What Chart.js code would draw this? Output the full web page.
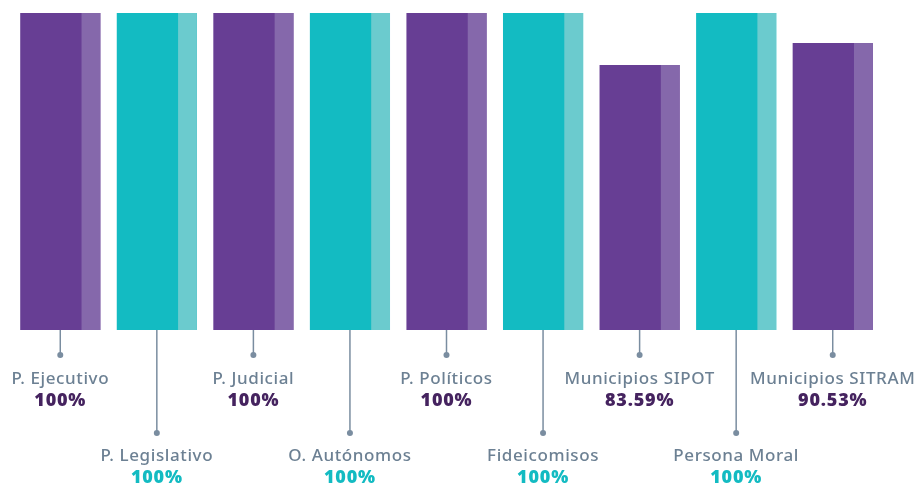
<!DOCTYPE html>
<html>
<head>
<meta charset="utf-8">
<script src="https://cdn.jsdelivr.net/npm/chart.js@4.4.1/dist/chart.umd.min.js"></script>
<style>
  html, body { margin: 0; padding: 0; background: #fff; }
  #wrap { width: 914px; height: 486px; }
</style>
</head>
<body>
<div id="wrap"><canvas id="canvas" width="914" height="486"></canvas></div>
<script>
var categories = ['P. Ejecutivo', 'P. Legislativo', 'P. Judicial', 'O. Autónomos', 'P. Políticos',
                  'Fideicomisos', 'Municipios SIPOT', 'Persona Moral', 'Municipios SITRAM'];
var values = [100, 100, 100, 100, 100, 100, 83.59, 100, 90.53];
var valueLabels = ['100%', '100%', '100%', '100%', '100%', '100%', '83.59%', '100%', '90.53%'];

var purple = '#673e94', purpleLight = '#8568ab';
var teal = '#13bbc2', tealLight = '#6bcbce';

var barColors = categories.map(function(c, i){ return i % 2 == 0 ? purple : teal; });
var stripColors = categories.map(function(c, i){ return i % 2 == 0 ? purpleLight : tealLight; });
var valueColors = categories.map(function(c, i){ return i % 2 == 0 ? '#45235f' : '#13bbc2'; });

// lighter strip on the right side of each bar
var stripPlugin = {
    id: 'strip',
    afterDatasetsDraw: function(chart){
        var ctx = chart.ctx;
        chart.getDatasetMeta(0).data.forEach(function(bar, i){
            var left = bar.x - bar.width / 2;
            var right = bar.x + bar.width / 2;
            var sx = left + bar.width * 0.765;
            ctx.fillStyle = stripColors[i];
            ctx.fillRect(sx, bar.y, right - sx, bar.base - bar.y);
        });
    }
};

// connector lines, dots and labels under the bars
var labelPlugin = {
    id: 'labels',
    afterDraw: function(chart){
        var ctx = chart.ctx;
        var xs = chart.scales.x;
        var base = chart.scales.y.getPixelForValue(0);
        ctx.save();
        categories.forEach(function(name, i){
            var x = xs.getPixelForValue(i);
            var low = i % 2 == 1;
            var dotY = low ? 433 : 355;
            ctx.strokeStyle = '#7a8da0';
            ctx.lineWidth = 1.5;
            ctx.beginPath();
            ctx.moveTo(x, base);
            ctx.lineTo(x, dotY);
            ctx.stroke();
            ctx.fillStyle = '#7a8da0';
            ctx.beginPath();
            ctx.arc(x, dotY, 3, 0, Math.PI * 2);
            ctx.fill();
            ctx.textAlign = 'center';
            ctx.textBaseline = 'middle';
            ctx.fillStyle = '#6c8093';
            ctx.letterSpacing = '0.6px';
            ctx.font = '500 17px "Noto Sans"';
            ctx.fillText(name, x, low ? 456 : 379);
            ctx.fillStyle = valueColors[i];
            ctx.letterSpacing = '0.8px';
            ctx.font = '900 18px "Noto Sans"';
            ctx.fillText(valueLabels[i], x, low ? 478 : 401);
        });
        ctx.restore();
    }
};

var ctx = document.getElementById('canvas').getContext('2d');
var myChart = new Chart(ctx, {
    type: 'bar',
    data: {
        labels: categories,
        datasets: [{
            data: values,
            backgroundColor: barColors,
            borderWidth: 0,
            barPercentage: 0.83,
            categoryPercentage: 1
        }]
    },
    options: {
        responsive: false,
        animation: false,
        layout: { padding: { left: 12, right: 33, top: 13, bottom: 156 } },
        plugins: { legend: { display: false }, tooltip: { enabled: false } },
        scales: {
            x: { display: false },
            y: { display: false, min: 0, max: 100 }
        }
    },
    plugins: [stripPlugin, labelPlugin]
});
</script>
</body>
</html>
